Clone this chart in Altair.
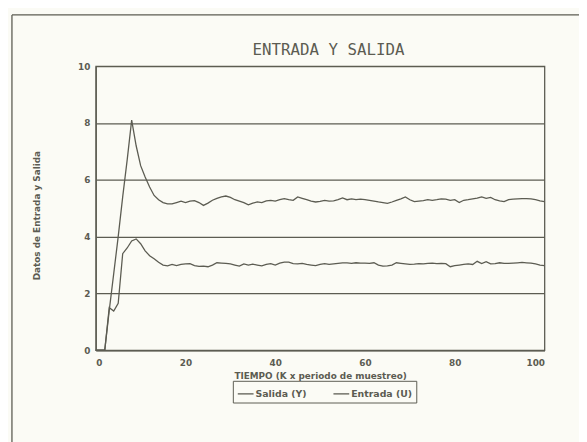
import altair as alt
import pandas as pd

t = list(range(0, 101))

salida = [0, 0, 0, 1.4, 2.7, 4.0, 5.4, 6.7, 8.1, 7.2,
          6.5, 6.1, 5.75, 5.45, 5.3, 5.2, 5.15, 5.15, 5.2, 5.25,
          5.2, 5.25, 5.27, 5.2, 5.1, 5.18, 5.28, 5.35, 5.4, 5.43,
          5.38, 5.3, 5.25, 5.2, 5.12, 5.18, 5.22, 5.2, 5.26, 5.28,
          5.25, 5.3, 5.34, 5.3, 5.28, 5.4, 5.35, 5.3, 5.25, 5.22,
          5.24, 5.28, 5.25, 5.26, 5.3, 5.36, 5.3, 5.33, 5.3, 5.32,
          5.3, 5.28, 5.25, 5.22, 5.2, 5.17, 5.22, 5.28, 5.33, 5.4,
          5.3, 5.23, 5.25, 5.27, 5.3, 5.28, 5.3, 5.33, 5.32, 5.28,
          5.3, 5.2, 5.28, 5.3, 5.33, 5.36, 5.4, 5.35, 5.38, 5.3,
          5.26, 5.23, 5.3, 5.32, 5.33, 5.34, 5.34, 5.33, 5.3, 5.26,
          5.23]

entrada = [0, 0, 0, 1.5, 1.38, 1.65, 3.4, 3.6, 3.85, 3.92,
           3.75, 3.5, 3.33, 3.22, 3.1, 3.0, 2.97, 3.02, 2.98, 3.02,
           3.04, 3.05, 2.98, 2.95, 2.96, 2.94, 3.0, 3.08, 3.07, 3.06,
           3.04, 3.0, 2.96, 3.04, 3.0, 3.03, 3.0, 2.97, 3.02, 3.05,
           3.0, 3.07, 3.1, 3.1, 3.05, 3.04, 3.06, 3.02, 3.0, 2.98,
           3.02, 3.05, 3.02, 3.04, 3.06, 3.08, 3.08, 3.06, 3.08, 3.07,
           3.07, 3.06, 3.08, 3.0, 2.96, 2.97, 3.0, 3.08, 3.06, 3.04,
           3.02, 3.03, 3.05, 3.04, 3.06, 3.07, 3.05, 3.06, 3.05, 2.94,
           2.98, 3.0, 3.02, 3.04, 3.02, 3.13, 3.05, 3.12, 3.04, 3.05,
           3.08, 3.06, 3.06, 3.07, 3.08, 3.09, 3.08, 3.07, 3.04, 3.0,
           2.98]

series = ["Salida (Y)", "Entrada (U)"]
x_ticks = [0, 20, 40, 60, 80, 100]
y_ticks = [0, 2, 4, 6, 8, 10]

INK = "#5c5c52"
BG = "#fbfbf5"

rows = []
for name, vals in zip(series, [salida, entrada]):
    for ti, v in zip(t, vals):
        rows.append({"t": ti, "v": v, "serie": name})
df = pd.DataFrame(rows)

W, H = 455, 288

lines = alt.Chart(df).mark_line(strokeWidth=1.3).encode(
    x=alt.X("t:Q", scale=alt.Scale(domain=[0, 100], nice=False),
            axis=alt.Axis(values=x_ticks, grid=False, ticks=False, labelPadding=8,
                          title="TIEMPO (K x periodo de muestreo)",
                          titleY=26, titleBaseline="middle")),
    y=alt.Y("v:Q", scale=alt.Scale(domain=[0, 10], nice=False),
            axis=alt.Axis(values=y_ticks, grid=True, ticks=False, labelPadding=6,
                          title="Datos de Entrada y Salida",
                          titleX=-60, titleY=151, titleBaseline="middle")),
    color=alt.Color("serie:N",
                    scale=alt.Scale(domain=series, range=[INK, INK]),
                    sort=series,
                    legend=alt.Legend(title=None, orient="none", legendX=139, legendY=319,
                                      direction="horizontal", symbolType="stroke",
                                      symbolSize=256, symbolStrokeWidth=1.3,
                                      labelFont="DejaVu Sans", labelFontWeight="bold",
                                      labelFontSize=9.5, labelColor=INK, labelOffset=1,
                                      columnPadding=24, padding=4,
                                      strokeColor=INK)),
)

one = alt.Data(values=[{"a": 1}])

title = alt.Chart(one).mark_text(
    text="ENTRADA Y SALIDA", font="DejaVu Sans Mono", fontSize=16,
    color=INK, align="center", baseline="alphabetic"
).encode(x=alt.value(236), y=alt.value(-11))

frame_top = alt.Chart(one).mark_rule(color=INK, strokeWidth=1.3).encode(
    x=alt.value(-85), x2=alt.value(520), y=alt.value(-52))
frame_left = alt.Chart(one).mark_rule(color=INK, strokeWidth=1.3).encode(
    x=alt.value(-85), y=alt.value(-52), y2=alt.value(420))

chart = alt.layer(frame_top, frame_left, lines, title).properties(
    width=W, height=H,
    autosize=alt.AutoSizeParams(type="none"),
    padding={"left": 89, "top": 56, "right": 35, "bottom": 90},
    background=BG,
).configure_view(
    stroke=INK, strokeWidth=1.3
).configure_axis(
    domainColor=INK, domainWidth=1.3, gridColor=INK, gridWidth=1.2, gridOpacity=1,
    labelFont="DejaVu Sans", labelFontWeight="bold", labelFontSize=9, labelColor=INK,
    titleFont="DejaVu Sans", titleFontWeight="bold", titleFontSize=9, titleColor=INK,
)

chart.save("out.html", embed_options={"renderer": "svg", "actions": False})
